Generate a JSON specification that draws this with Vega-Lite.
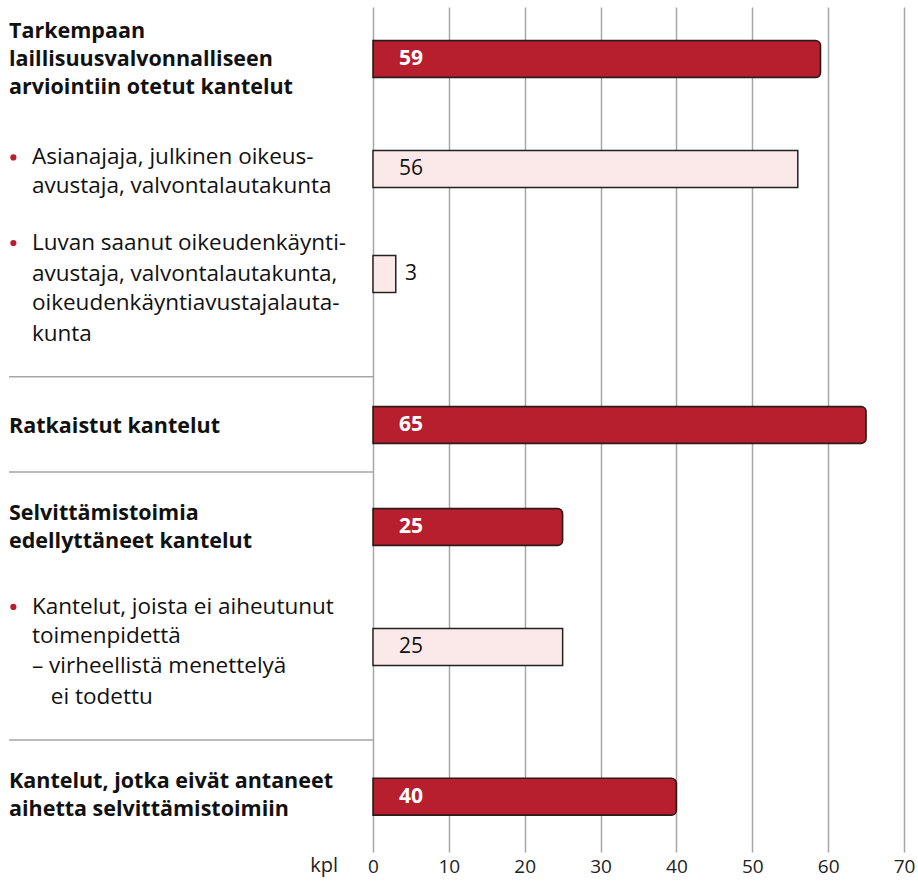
{
  "$schema": "https://vega.github.io/schema/vega-lite/v6.json",
  "padding": {"left": 8, "top": 7, "right": 15, "bottom": 0},
  "background": "white",
  "spacing": 0,
  "bounds": "flush",
  "config": {"view": {"stroke": null}, "font": "Open Sans"},
  "datasets": {
    "lines": [
      {"text": "Tarkempaan", "row": 0.89, "indent": 0, "weight": "bold", "bullet": false},
      {"text": "laillisuusvalvonnalliseen", "row": 1.88, "indent": 0, "weight": "bold", "bullet": false},
      {"text": "arviointiin otetut kantelut", "row": 2.88, "indent": 0, "weight": "bold", "bullet": false},
      {"text": "Asianajaja, julkinen oikeus-", "row": 5.34, "indent": 6.3, "weight": "normal", "bullet": true},
      {"text": "avustaja, valvontalautakunta", "row": 6.37, "indent": 6.3, "weight": "normal", "bullet": false},
      {"text": "Luvan saanut oikeudenkäynti-", "row": 8.38, "indent": 6.3, "weight": "normal", "bullet": true},
      {"text": "avustaja, valvontalautakunta,", "row": 9.48, "indent": 6.3, "weight": "normal", "bullet": false},
      {"text": "oikeudenkäyntiavustajalauta-", "row": 10.51, "indent": 6.3, "weight": "normal", "bullet": false},
      {"text": "kunta", "row": 11.61, "indent": 6.3, "weight": "normal", "bullet": false},
      {"text": "Ratkaistut kantelut", "row": 14.91, "indent": 0, "weight": "bold", "bullet": false},
      {"text": "Selvittämistoimia", "row": 18.0, "indent": 0, "weight": "bold", "bullet": false},
      {"text": "edellyttäneet kantelut", "row": 18.99, "indent": 0, "weight": "bold", "bullet": false},
      {"text": "Kantelut, joista ei aiheutunut", "row": 21.3, "indent": 6.3, "weight": "normal", "bullet": true},
      {"text": "toimenpidettä", "row": 22.33, "indent": 6.3, "weight": "normal", "bullet": false},
      {"text": "– virheellistä menettelyä", "row": 23.39, "indent": 6.3, "weight": "normal", "bullet": false},
      {"text": "ei todettu", "row": 24.49, "indent": 11.5, "weight": "normal", "bullet": false},
      {"text": "Kantelut, jotka eivät antaneet", "row": 27.51, "indent": 0, "weight": "bold", "bullet": false},
      {"text": "aihetta selvittämistoimiin", "row": 28.51, "indent": 0, "weight": "bold", "bullet": false}
    ],
    "unit": [{"text": "kpl", "row": 30.5, "indent": 90.4}],
    "seps": [{"row": 13.13}, {"row": 16.51}, {"row": 26.02}],
    "bars": [
      {"category": "Tarkempaan laillisuusvalvonnalliseen arviointiin otetut kantelut", "value": 59, "row": 1.85, "type": "main"},
      {"category": "Asianajaja, julkinen oikeusavustaja, valvontalautakunta", "value": 56, "row": 5.75, "type": "sub"},
      {"category": "Luvan saanut oikeudenkäyntiavustaja, valvontalautakunta, oikeudenkäyntiavustajalautakunta", "value": 3, "row": 9.48, "type": "sub"},
      {"category": "Ratkaistut kantelut", "value": 65, "row": 14.84, "type": "main"},
      {"category": "Selvittämistoimia edellyttäneet kantelut", "value": 25, "row": 18.46, "type": "main"},
      {"category": "Kantelut, joista ei aiheutunut toimenpidettä – virheellistä menettelyä ei todettu", "value": 25, "row": 22.72, "type": "sub"},
      {"category": "Kantelut, jotka eivät antaneet aihetta selvittämistoimiin", "value": 40, "row": 28.04, "type": "main"}
    ]
  },
  "hconcat": [
    {
      "width": 364,
      "height": 845,
      "layer": [
        {
          "data": {"name": "seps"},
          "mark": {"type": "rule", "color": "#a6a6a6", "strokeWidth": 1.5},
          "encoding": {
            "y": {"field": "row", "type": "quantitative", "scale": {"domain": [0, 30], "reverse": true, "nice": false, "zero": false}, "axis": null},
            "x": {"datum": 0, "type": "quantitative", "scale": {"domain": [0, 100], "nice": false}, "axis": null},
            "x2": {"datum": 100}
          }
        },
        {
          "data": {"name": "lines"},
          "transform": [{"filter": "datum.weight === 'bold'"}],
          "mark": {"type": "text", "align": "left", "baseline": "middle", "fontSize": 21.5, "fontWeight": "bold", "color": "#111111"},
          "encoding": {
            "y": {"field": "row", "type": "quantitative"},
            "x": {"field": "indent", "type": "quantitative"},
            "text": {"field": "text"}
          }
        },
        {
          "data": {"name": "lines"},
          "transform": [{"filter": "datum.weight === 'normal'"}],
          "mark": {"type": "text", "align": "left", "baseline": "middle", "fontSize": 22.5, "fontWeight": "normal", "color": "#111111"},
          "encoding": {
            "y": {"field": "row", "type": "quantitative"},
            "x": {"field": "indent", "type": "quantitative"},
            "text": {"field": "text"}
          }
        },
        {
          "data": {"name": "unit"},
          "mark": {"type": "text", "align": "right", "baseline": "middle", "fontSize": 20, "fontWeight": "normal", "color": "#222222"},
          "encoding": {
            "y": {"field": "row", "type": "quantitative"},
            "x": {"field": "indent", "type": "quantitative"},
            "text": {"field": "text"}
          }
        },
        {
          "data": {"name": "lines"},
          "transform": [{"filter": "datum.bullet"}],
          "mark": {"type": "circle", "size": 38, "color": "#b71f2e", "opacity": 1},
          "encoding": {
            "y": {"field": "row", "type": "quantitative"},
            "x": {"datum": 1.2, "type": "quantitative"}
          }
        }
      ]
    },
    {
      "width": 531,
      "height": 845,
      "data": {"name": "bars"},
      "layer": [
        {
          "transform": [{"filter": "datum.type === 'main'"}],
          "mark": {"type": "bar", "orient": "horizontal", "height": 37, "fill": "#b71f2e", "stroke": "#2b1a1a", "strokeWidth": 1.5, "cornerRadiusEnd": 5},
          "encoding": {
            "x": {
              "field": "value", "type": "quantitative",
              "scale": {"domain": [0, 70], "nice": false, "padding": 0},
              "axis": {
                "values": [0, 10, 20, 30, 40, 50, 60, 70],
                "grid": true, "gridColor": "#a6a6a6", "gridWidth": 1.5,
                "ticks": false, "domain": false, "labelFlush": false,
                "labelFontSize": 19, "labelColor": "#222222", "labelPadding": 5,
                "labelFont": "Open Sans",
                "title": null
              }
            },
            "y": {"field": "row", "type": "quantitative", "scale": {"domain": [0, 30], "reverse": true, "nice": false, "zero": false, "padding": 0}, "axis": null}
          }
        },
        {
          "transform": [{"filter": "datum.type === 'sub'"}],
          "mark": {"type": "bar", "orient": "horizontal", "height": 37, "fill": "#fbe9ea", "stroke": "#222222", "strokeWidth": 1.5},
          "encoding": {
            "x": {"field": "value", "type": "quantitative"},
            "y": {"field": "row", "type": "quantitative"}
          }
        },
        {
          "transform": [{"filter": "datum.type === 'main'"}],
          "mark": {"type": "text", "align": "center", "baseline": "middle", "fontSize": 21, "fontWeight": "bold", "color": "#ffffff"},
          "encoding": {
            "x": {"datum": 5, "type": "quantitative"},
            "y": {"field": "row", "type": "quantitative"},
            "text": {"field": "value", "type": "quantitative"}
          }
        },
        {
          "transform": [{"filter": "datum.type === 'sub'"}],
          "mark": {"type": "text", "align": "center", "baseline": "middle", "fontSize": 21, "fontWeight": "normal", "color": "#111111"},
          "encoding": {
            "x": {"datum": 5, "type": "quantitative"},
            "y": {"field": "row", "type": "quantitative"},
            "text": {"field": "value", "type": "quantitative"}
          }
        }
      ]
    }
  ]
}
